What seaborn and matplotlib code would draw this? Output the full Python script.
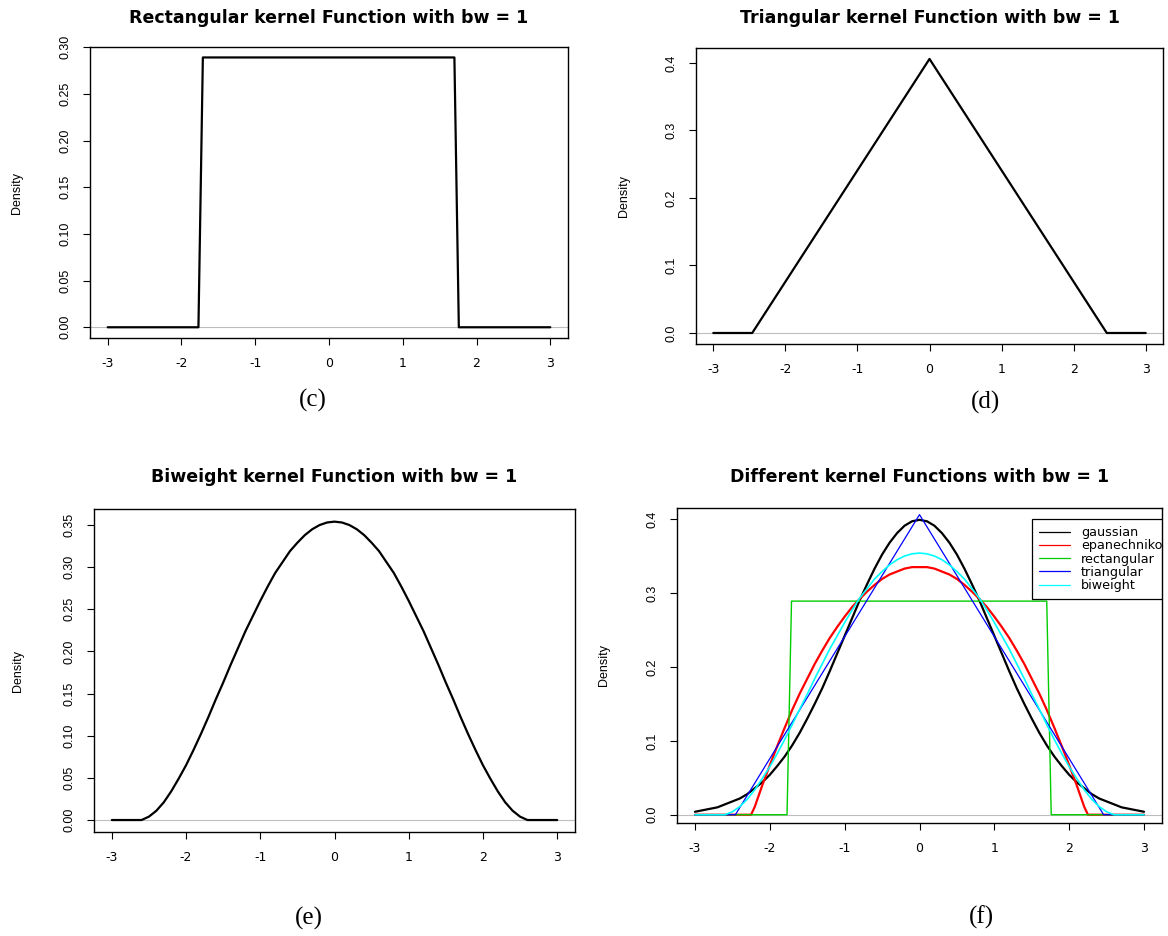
import matplotlib
matplotlib.use("Agg")
import matplotlib.pyplot as plt
from matplotlib.lines import Line2D
from matplotlib.ticker import FormatStrFormatter
import seaborn as sns

sns.set_theme(style="ticks")
plt.rcParams['font.family'] = ['Liberation Sans', 'DejaVu Sans']
plt.rcParams['axes.unicode_minus'] = False
plt.rcParams['text.color'] = 'black'
plt.rcParams['axes.labelcolor'] = 'black'
plt.rcParams['xtick.color'] = 'black'
plt.rcParams['ytick.color'] = 'black'

# values
x_ticks = [-3, -2, -1, 0, 1, 2, 3]

# rectangular kernel (c)
rect_x = [-3.0, -1.77, -1.71, 1.70, 1.76, 3.0]
rect_y = [0.0, 0.0, 0.289, 0.289, 0.0, 0.0]

# triangular kernel (d)
tri_x = [-3.0, -2.46, 0.0, 2.46, 3.0]
tri_y = [0.0, 0.0, 0.406, 0.0, 0.0]

# common grid for the smooth curves
grid_x = [-3.0, -2.9, -2.8, -2.7, -2.6, -2.5, -2.4, -2.3, -2.2, -2.1,
          -2.0, -1.9, -1.8, -1.7, -1.6, -1.5, -1.4, -1.3, -1.2, -1.1,
          -1.0, -0.9, -0.8, -0.7, -0.6, -0.5, -0.4, -0.3, -0.2, -0.1,
          0.0, 0.1, 0.2, 0.3, 0.4, 0.5, 0.6, 0.7, 0.8, 0.9,
          1.0, 1.1, 1.2, 1.3, 1.4, 1.5, 1.6, 1.7, 1.8, 1.9,
          2.0, 2.1, 2.2, 2.3, 2.4, 2.5, 2.6, 2.7, 2.8, 2.9, 3.0]

# biweight kernel (e)
biw_y = [0.0, 0.0, 0.0, 0.0, 0.0, 0.004, 0.011, 0.021, 0.034, 0.049,
         0.065, 0.083, 0.102, 0.122, 0.143, 0.163, 0.184, 0.204, 0.224, 0.242,
         0.260, 0.277, 0.293, 0.306, 0.319, 0.329, 0.338, 0.345, 0.350, 0.353,
         0.354, 0.353, 0.350, 0.345, 0.338, 0.329, 0.319, 0.306, 0.293, 0.277,
         0.260, 0.242, 0.224, 0.204, 0.184, 0.163, 0.143, 0.122, 0.102, 0.083,
         0.065, 0.049, 0.034, 0.021, 0.011, 0.004, 0.0, 0.0, 0.0, 0.0, 0.0]

# gaussian kernel (f)
gauss_y = [0.004, 0.006, 0.008, 0.010, 0.014, 0.018, 0.022, 0.028, 0.036, 0.044,
           0.054, 0.066, 0.079, 0.094, 0.111, 0.130, 0.150, 0.171, 0.194, 0.218,
           0.242, 0.266, 0.290, 0.312, 0.333, 0.352, 0.368, 0.381, 0.391, 0.397,
           0.399, 0.397, 0.391, 0.381, 0.368, 0.352, 0.333, 0.312, 0.290, 0.266,
           0.242, 0.218, 0.194, 0.171, 0.150, 0.130, 0.111, 0.094, 0.079, 0.066,
           0.054, 0.044, 0.036, 0.028, 0.022, 0.018, 0.014, 0.010, 0.008, 0.006, 0.004]

# epanechnikov kernel (f)
epan_x = [-3.0, -2.25, -2.2, -2.1, -2.0, -1.9, -1.8, -1.7, -1.6, -1.5, -1.4, -1.3, -1.2, -1.1,
          -1.0, -0.9, -0.8, -0.7, -0.6, -0.5, -0.4, -0.3, -0.2, -0.1, 0.0,
          0.1, 0.2, 0.3, 0.4, 0.5, 0.6, 0.7, 0.8, 0.9, 1.0,
          1.1, 1.2, 1.3, 1.4, 1.5, 1.6, 1.7, 1.8, 1.9, 2.0, 2.1, 2.2, 2.25, 3.0]
epan_y = [0.0, 0.0, 0.011, 0.040, 0.067, 0.093, 0.118, 0.142, 0.164, 0.184, 0.204, 0.222, 0.239, 0.254,
          0.268, 0.281, 0.292, 0.302, 0.311, 0.319, 0.325, 0.329, 0.333, 0.335, 0.335,
          0.335, 0.333, 0.329, 0.325, 0.319, 0.311, 0.302, 0.292, 0.281, 0.268,
          0.254, 0.239, 0.222, 0.204, 0.184, 0.164, 0.142, 0.118, 0.093, 0.067, 0.040, 0.011, 0.0, 0.0]

legend_labels = ['gaussian', 'epanechnikov', 'rectangular', 'triangular', 'biweight']
legend_colors = ['black', 'red', '#00CD00', 'blue', 'cyan']

W, H = 1168, 936
fig = plt.figure(figsize=(W / 100, H / 100), dpi=100)
WIDE = ['DejaVu Sans']


def make_axes(left, top, right, bottom):
    return fig.add_axes([left / W, 1 - bottom / H, (right - left) / W, (bottom - top) / H])


def style_axes(ax, ylim, yticks, yfmt, title, tag, tag_xy, lab_x):
    ax.set_xlim(-3.24, 3.24)
    ax.set_ylim(*ylim)
    ax.axhline(0, color='#BEBEBE', lw=0.8, zorder=0)
    ax.set_xticks(x_ticks)
    ax.set_xticklabels([str(t) for t in x_ticks], family=WIDE)
    ax.set_yticks(yticks)
    ax.yaxis.set_major_formatter(FormatStrFormatter(yfmt))
    ax.tick_params(axis='both', direction='out', length=5, width=0.8, color='black',
                   labelcolor='black')
    ax.tick_params(axis='x', labelsize=9, pad=9)
    ax.tick_params(axis='y', labelsize=9, pad=8, labelrotation=90)
    for lab in ax.get_yticklabels():
        lab.set_verticalalignment('center')
    for sp in ax.spines.values():
        sp.set_visible(True)
        sp.set_color('black')
        sp.set_linewidth(1.0)
    ax.set_xlabel('')
    ax.set_ylabel('Density', fontsize=9, color='black')
    ax.yaxis.set_label_coords(lab_x, 0.5)
    pos = ax.get_position()
    fig.text(pos.x0 + pos.width / 2, title[1], title[0], ha='center', va='center',
             fontsize=12.5, fontweight='bold', family=WIDE, color='black')
    fig.text(tag_xy[0] / W, 1 - tag_xy[1] / H, tag, ha='center', va='center',
             fontsize=18, family='Liberation Serif', color='black')


# (c) rectangular
ax_c = make_axes(90, 47, 568, 338)
sns.lineplot(x=rect_x, y=rect_y, ax=ax_c, color='black', lw=1.6, sort=False)
style_axes(ax_c, (-0.0115, 0.3002), [0, 0.05, 0.10, 0.15, 0.20, 0.25, 0.30], '%.2f',
           ('Rectangular kernel Function with bw = 1', 1 - 18 / H), '(c)', (313, 400), -0.14)

# (d) triangular
ax_d = make_axes(696, 48, 1163, 344)
sns.lineplot(x=tri_x, y=tri_y, ax=ax_d, color='black', lw=1.6, sort=False)
style_axes(ax_d, (-0.0163, 0.4222), [0, 0.1, 0.2, 0.3, 0.4], '%.1f',
           ('Triangular kernel Function with bw = 1', 1 - 18 / H), '(d)', (985, 402), -0.141)

# (e) biweight
ax_e = make_axes(94, 509, 575, 832)
sns.lineplot(x=grid_x, y=biw_y, ax=ax_e, color='black', lw=1.6, sort=False)
style_axes(ax_e, (-0.0142, 0.369), [0, 0.05, 0.10, 0.15, 0.20, 0.25, 0.30, 0.35], '%.2f',
           ('Biweight kernel Function with bw = 1', 1 - 477 / H), '(e)', (309, 918), -0.146)

# (f) all kernels, drawn in legend order
ax_f = make_axes(677, 508, 1162, 823)
sns.lineplot(x=grid_x, y=gauss_y, ax=ax_f, color='black', lw=1.6, sort=False)
sns.lineplot(x=epan_x, y=epan_y, ax=ax_f, color='red', lw=1.6, sort=False)
sns.lineplot(x=rect_x, y=rect_y, ax=ax_f, color='#00CD00', lw=1.0, sort=False)
sns.lineplot(x=tri_x, y=tri_y, ax=ax_f, color='blue', lw=0.9, sort=False)
sns.lineplot(x=grid_x, y=biw_y, ax=ax_f, color='cyan', lw=1.2, sort=False)
style_axes(ax_f, (-0.0112, 0.415), [0, 0.1, 0.2, 0.3, 0.4], '%.1f',
           ('Different kernel Functions with bw = 1', 1 - 477 / H), '(f)', (981, 917), -0.138)

# legend box runs past the right edge of the plot region and is clipped there
handles = [Line2D([], [], color=c, lw=0.9) for c in legend_colors]
leg = ax_f.legend(handles, legend_labels, loc='upper left', bbox_to_anchor=(0.732, 0.965),
                  borderaxespad=0, prop={'family': WIDE, 'size': 9.2}, labelspacing=0.02,
                  handlelength=2.4, handletextpad=0.9, borderpad=0.55, fancybox=False,
                  framealpha=1, edgecolor='black')
leg.get_frame().set_linewidth(0.9)
leg.set_zorder(2)
for art in [leg.get_frame()] + leg.get_texts() + leg.get_lines():
    art.set_clip_box(ax_f.bbox)
    art.set_clip_on(True)

fig.savefig('out.png', dpi=100)
